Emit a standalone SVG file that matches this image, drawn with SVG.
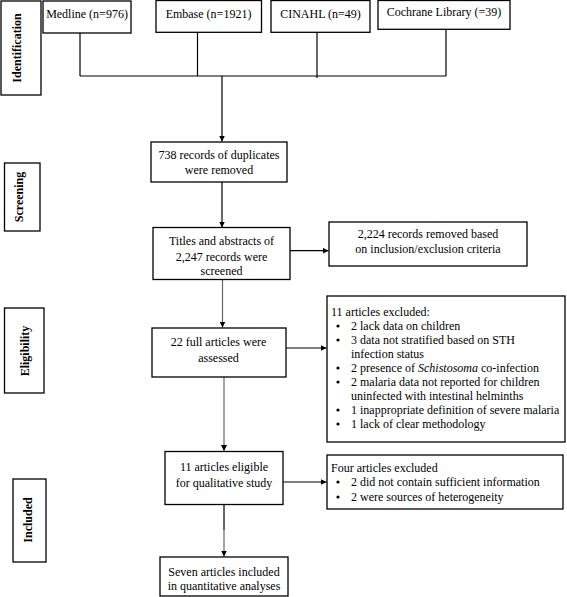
<svg xmlns="http://www.w3.org/2000/svg" width="567" height="597" viewBox="0 0 567 597">
<style>
  .box { fill: #fff; stroke: #000; stroke-width: 1.3; }
  .t { font-family: "Liberation Serif", "Times New Roman", serif; font-size: 12px; fill: #000; }
  .c { text-anchor: middle; }
  .lab { font-family: "Liberation Serif", "Times New Roman", serif; font-size: 12px; font-weight: bold; text-anchor: middle; fill: #000; }
  .ln { fill: none; stroke: #000; stroke-width: 1.2; }
  .gr { stroke: #666; }
  .arr { marker-end: url(#ah); }
  .dot { fill: #000; }
</style>
<defs>
  <marker id="ah" markerUnits="userSpaceOnUse" markerWidth="7" markerHeight="7" refX="6" refY="3" orient="auto">
    <path d="M0,0 L6,3 L0,6 Z" fill="#000"/>
  </marker>
</defs>
<rect width="567" height="597" fill="#fff"/>

<g id="connectors">
  <path class="ln" d="M80,33 V76"/>
  <path class="ln" d="M197.5,32 V76"/>
  <path class="ln" d="M317,32 V78"/>
  <path class="ln" d="M446,29 V76"/>
  <path class="ln" d="M80,76 H446"/>
  <path class="ln arr" d="M222,76 V141.5"/>
  <path class="ln arr" d="M222,182 V227.5"/>
  <path class="ln arr" d="M290,250.7 H328.5"/>
  <path class="ln gr arr" d="M222.5,279.5 V327.5"/>
  <path class="ln arr" d="M286,348 H326.5"/>
  <path class="ln gr arr" d="M224,377 V451"/>
  <path class="ln arr" d="M283,482 H326.5"/>
  <path class="ln" d="M224,504.5 V530"/>
  <path class="ln gr arr" d="M224,530 V556.5"/>
</g>

<g id="identification">
  <rect class="box" x="1" y="1" width="40" height="94"/>
  <text class="lab" transform="translate(21,48) rotate(-90)">Identification</text>
</g>
<g id="medline">
  <rect class="box" x="43" y="1" width="88" height="32"/>
  <text class="t c" x="87" y="18">Medline (n=976)</text>
</g>
<g id="embase">
  <rect class="box" x="156" y="0.5" width="105.5" height="31.8"/>
  <text class="t c" x="208.5" y="17.5">Embase (n=1921)</text>
</g>
<g id="cinahl">
  <rect class="box" x="271" y="0.5" width="99" height="31.8"/>
  <text class="t c" x="320.5" y="17.5">CINAHL (n=49)</text>
</g>
<g id="cochrane">
  <rect class="box" x="378" y="0.5" width="132" height="28.8"/>
  <text class="t c" x="444" y="16">Cochrane Library (=39)</text>
</g>

<g id="screening">
  <rect class="box" x="4.5" y="163" width="35.5" height="68"/>
  <text class="lab" transform="translate(23,197) rotate(-90)">Screening</text>
</g>
<g id="duplicates">
  <rect class="box" x="151" y="142" width="136" height="40"/>
  <text class="t c" x="219" y="158.5">738 records of duplicates</text>
  <text class="t c" x="219" y="173.5">were removed</text>
</g>
<g id="titles">
  <rect class="box" x="153" y="227.5" width="137" height="52"/>
  <text class="t c" x="221.5" y="244.5">Titles and abstracts of</text>
  <text class="t c" x="221.5" y="260.5">2,247 records were</text>
  <text class="t c" x="221.5" y="275">screened</text>
</g>
<g id="removed">
  <rect class="box" x="329" y="222" width="198" height="44"/>
  <text class="t c" x="428" y="238">2,224 records removed based</text>
  <text class="t c" x="428" y="253">on inclusion/exclusion criteria</text>
</g>

<g id="eligibility">
  <rect class="box" x="4.5" y="308" width="39.5" height="85"/>
  <text class="lab" transform="translate(29,351) rotate(-90)">Eligibility</text>
</g>
<g id="fulltext">
  <rect class="box" x="152" y="328" width="134" height="49"/>
  <text class="t c" x="218.5" y="346">22 full articles were</text>
  <text class="t c" x="218.5" y="361.5">assessed</text>
</g>
<g id="excluded11">
  <rect class="box" x="327" y="296" width="238" height="146"/>
  <text class="t" x="331" y="316">11 articles excluded:</text>
  <circle class="dot" cx="338" cy="326" r="1.6"/>
  <text class="t" x="351" y="330">2 lack data on children</text>
  <circle class="dot" cx="338" cy="340" r="1.6"/>
  <text class="t" x="351" y="344">3 data not stratified based on STH</text>
  <text class="t" x="351" y="358">infection status</text>
  <circle class="dot" cx="338" cy="368" r="1.6"/>
  <text class="t" x="351" y="372">2 presence of <tspan font-style="italic">Schistosoma</tspan> co-infection</text>
  <circle class="dot" cx="338" cy="382" r="1.6"/>
  <text class="t" x="351" y="386">2 malaria data not reported for children</text>
  <text class="t" x="351" y="400">uninfected with intestinal helminths</text>
  <circle class="dot" cx="338" cy="410" r="1.6"/>
  <text class="t" x="351" y="414">1 inappropriate definition of severe malaria</text>
  <circle class="dot" cx="338" cy="424" r="1.6"/>
  <text class="t" x="351" y="428">1 lack of clear methodology</text>
</g>

<g id="included">
  <rect class="box" x="13" y="479" width="33" height="83"/>
  <text class="lab" transform="translate(32,520) rotate(-90)">Included</text>
</g>
<g id="qualitative">
  <rect class="box" x="165" y="451.5" width="118" height="53"/>
  <text class="t c" x="224" y="471">11 articles eligible</text>
  <text class="t c" x="224" y="487">for qualitative study</text>
</g>
<g id="excluded4">
  <rect class="box" x="327" y="455" width="236" height="54"/>
  <text class="t" x="331" y="471.5">Four articles excluded</text>
  <circle class="dot" cx="338" cy="482" r="1.6"/>
  <text class="t" x="351" y="486">2 did not contain sufficient information</text>
  <circle class="dot" cx="338" cy="497" r="1.6"/>
  <text class="t" x="351" y="501">2 were sources of heterogeneity</text>
</g>
<g id="quantitative">
  <rect class="box" x="160" y="557" width="128" height="39"/>
  <text class="t c" x="224" y="575.5">Seven articles included</text>
  <text class="t c" x="224" y="590">in quantitative analyses</text>
</g>
</svg>
